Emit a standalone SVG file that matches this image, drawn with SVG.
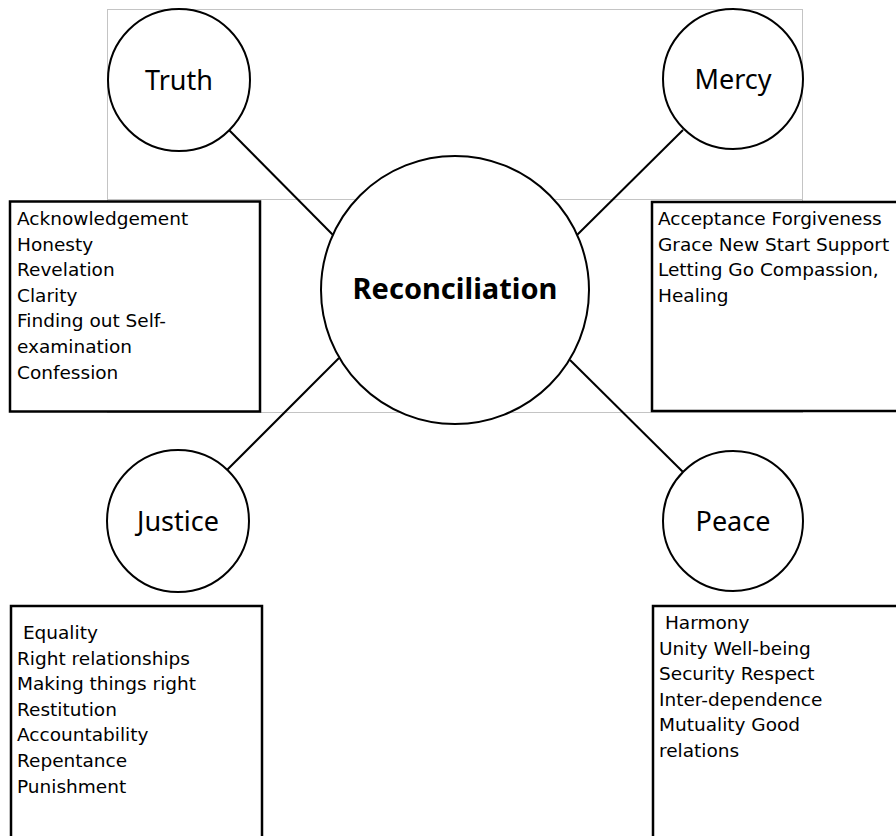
<svg xmlns="http://www.w3.org/2000/svg" width="896" height="836" viewBox="0 0 896 836">
<style>
  .guide { fill: none; stroke: #c4c4c4; stroke-width: 1; }
  .node { fill: #ffffff; stroke: #000000; stroke-width: 2; }
  .box { fill: #ffffff; stroke: #000000; stroke-width: 2.5; }
  .conn { stroke: #000000; stroke-width: 2; fill: none; }
  .lbl { font-family: "Noto Sans", "Open Sans", sans-serif; font-size: 27px; fill: #000; text-anchor: middle; }
  .main { font-family: "Noto Sans", "Open Sans", sans-serif; font-size: 29px; font-weight: bold; fill: #000; text-anchor: middle; }
  .item { font-family: "DejaVu Sans", Verdana, sans-serif; font-size: 18.5px; fill: #000; }
</style>
<rect width="896" height="836" fill="#ffffff"/>
<g id="guides">
  <rect class="guide" x="107.5" y="9.5" width="695" height="403"/>
  <line class="guide" x1="107.5" y1="199.5" x2="802.5" y2="199.5"/>
</g>
<g id="connectors">
  <line class="conn" x1="229" y1="130" x2="333" y2="235"/>
  <line class="conn" x1="683" y1="130" x2="577" y2="235"/>
  <line class="conn" x1="227" y1="470" x2="339" y2="358"/>
  <line class="conn" x1="683" y1="472" x2="570" y2="360"/>
</g>
<g id="truth">
  <circle class="node" cx="179" cy="80" r="71"/>
  <text class="lbl" x="179" y="90">Truth</text>
</g>
<g id="mercy">
  <circle class="node" cx="733" cy="79" r="70"/>
  <text class="lbl" x="733" y="89">Mercy</text>
</g>
<g id="reconciliation">
  <circle class="node" cx="455" cy="290" r="134"/>
  <text class="main" x="455" y="299">Reconciliation</text>
</g>
<g id="justice">
  <circle class="node" cx="178" cy="521" r="71"/>
  <text class="lbl" x="178" y="531">Justice</text>
</g>
<g id="peace">
  <circle class="node" cx="733" cy="521" r="70"/>
  <text class="lbl" x="733" y="531">Peace</text>
</g>
<g id="truth-box">
  <rect class="box" x="10" y="201.5" width="250" height="210"/>
  <text class="item" x="17" y="225">Acknowledgement</text>
  <text class="item" x="17" y="250.6">Honesty</text>
  <text class="item" x="17" y="276.2">Revelation</text>
  <text class="item" x="17" y="301.8">Clarity</text>
  <text class="item" x="17" y="327.4">Finding out Self-</text>
  <text class="item" x="17" y="353">examination</text>
  <text class="item" x="17" y="378.6">Confession</text>
</g>
<g id="mercy-box">
  <rect class="box" x="652" y="202" width="250" height="209"/>
  <text class="item" x="658" y="225">Acceptance Forgiveness</text>
  <text class="item" x="658" y="250.6">Grace New Start Support</text>
  <text class="item" x="658" y="276.2">Letting Go Compassion,</text>
  <text class="item" x="658" y="301.8">Healing</text>
</g>
<g id="justice-box">
  <rect class="box" x="11" y="606" width="251" height="240"/>
  <text class="item" x="17" y="639" xml:space="preserve"> Equality</text>
  <text class="item" x="17" y="664.6">Right relationships</text>
  <text class="item" x="17" y="690.2">Making things right</text>
  <text class="item" x="17" y="715.8">Restitution</text>
  <text class="item" x="17" y="741.4">Accountability</text>
  <text class="item" x="17" y="767">Repentance</text>
  <text class="item" x="17" y="792.6">Punishment</text>
</g>
<g id="peace-box">
  <rect class="box" x="653" y="606" width="250" height="240"/>
  <text class="item" x="659" y="629" xml:space="preserve"> Harmony</text>
  <text class="item" x="659" y="654.6">Unity Well-being</text>
  <text class="item" x="659" y="680.2">Security Respect</text>
  <text class="item" x="659" y="705.8">Inter-dependence</text>
  <text class="item" x="659" y="731.4">Mutuality Good</text>
  <text class="item" x="659" y="757">relations</text>
</g>
</svg>
